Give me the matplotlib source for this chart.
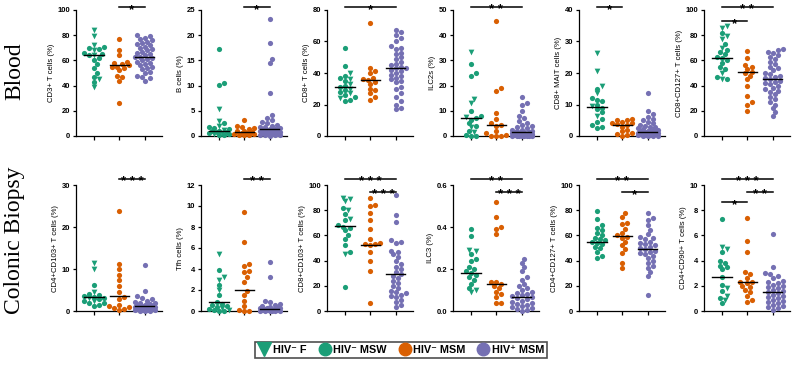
import numpy as np
import matplotlib.pyplot as plt
from matplotlib.lines import Line2D
from matplotlib.ticker import FormatStrFormatter

# --- Data ---------------------------------------------------------------
# groups: HIV- F (triangles) + HIV- MSW (circles) share column 1,
# HIV- MSM column 2, HIV+ MSM column 3
# Blood
cd3_f = [84, 79, 72, 68, 64, 45, 39]
cd3_msw = [71, 70, 69, 66, 65, 64, 62, 60, 57, 54, 50, 47, 43]
cd3_msm = [77, 68, 64, 59, 58, 57, 56, 55, 55, 54, 52, 48, 47, 44, 26]
cd3_pos = [80, 79, 78, 77, 76, 75, 74, 73, 72, 71, 70, 69, 68, 67, 66, 65, 64, 63,
           63, 62, 61, 60, 59, 58, 57, 56, 55, 54, 53, 51, 50, 48, 47, 46, 44]
cd3_med = [64, 56, 63]

b_f = [5.3, 3.0, 2.0, 1.2, 0.6, 0.3]
b_msw = [17.3, 10.5, 10.2, 2.5, 1.8, 1.5, 1.3, 1.0, 0.9, 0.8, 0.7, 0.5, 0.4, 0.2, 0.1]
b_msm = [3.1, 2.0, 1.8, 1.5, 1.3, 1.0, 0.9, 0.8, 0.6, 0.5, 0.4, 0.3, 0.2, 0.1, 0.1]
b_pos = [23.2, 18.4, 15.2, 14.4, 8.5, 4.2, 3.6, 3.2, 2.8, 2.5, 2.2, 2.0, 1.8, 1.7, 1.5,
         1.4, 1.3, 1.3, 1.2, 1.1, 1.0, 0.9, 0.8, 0.7, 0.6, 0.5, 0.5, 0.4, 0.3, 0.3,
         0.2, 0.2, 0.1, 0.1, 0.05]
b_med = [1.0, 0.7, 1.3]

cd8_f = [40, 36, 33, 30, 27, 24]
cd8_msw = [56, 44.5, 38, 37, 35, 32, 31, 29, 28, 26, 25, 23, 22.5]
cd8_msm = [71.5, 43, 41, 40, 37, 36, 35.5, 34, 33, 30, 29, 27, 25, 23]
cd8_pos = [67, 66, 64, 62, 60, 57, 56, 55, 53, 52, 50, 49, 47, 46, 45, 44, 43, 43,
           42, 41, 40, 39, 38, 37, 36, 35, 34, 31, 30, 27, 25, 22, 20, 18, 17]
cd8_med = [31, 35.5, 43]

ilc2_f = [33.5, 14.5, 13, 7.5, 3.5, 1.5]
ilc2_msw = [28.5, 25, 24, 10, 8, 7, 6.5, 5, 4, 2, 0.3, 0, 0]
ilc2_msm = [45.5, 19, 18, 9, 6.8, 5, 4.5, 4, 2, 1, 0.5, 0, 0, 0]
ilc2_pos = [15.5, 13, 12.5, 10, 8, 7, 6, 5, 4.5, 4, 3.5, 3, 2.5, 2.2, 2, 1.8, 1.6,
            1.5, 1.4, 1.2, 1.0, 0.8, 0.7, 0.5, 0.4, 0.3, 0.2, 0.1, 0.1, 0, 0, 0, 0, 0, 0]
ilc2_med = [7.2, 4.3, 1.5]

mait_f = [26.5, 20.5, 16, 13.5, 9.5, 6.5]
mait_msw = [15, 12, 11.5, 11, 10, 9, 8.5, 7.5, 5.5, 4.5, 3.5, 3, 2.5]
mait_msm = [5.5, 5.2, 5, 4.5, 4.2, 4, 3.8, 3.5, 3, 2, 1.5, 1, 0.5, 0.2, 0]
mait_pos = [13.5, 8, 7, 6, 5.5, 5, 4.5, 4, 3.5, 3.2, 3, 2.8, 2.5, 2.2, 2, 1.8, 1.6,
            1.5, 1.4, 1.3, 1.2, 1.1, 1.0, 0.9, 0.8, 0.7, 0.6, 0.5, 0.4, 0.3, 0.2,
            0.1, 0.1, 0, 0]
mait_med = [9.2, 3.6, 1.4]

cd127_f = [87, 86, 79, 77, 70, 50, 45]
cd127_msw = [82, 73, 68, 67, 65, 63, 62, 60, 58, 55, 53, 47, 45]
cd127_msm = [67.5, 62, 56, 55, 53, 51, 50, 48, 45, 40, 32, 27, 25, 20]
cd127_pos = [69, 68, 67, 66, 64, 63, 61, 59, 57, 55, 54, 52, 50, 49, 48, 47, 46, 45,
             44, 43, 42, 41, 40, 38, 37, 36, 35, 33, 31, 29, 27, 25, 22, 19, 16]
cd127_med = [62, 50.5, 45]

# Colonic biopsy
cd4103_f = [11.5, 10.0, 4.5, 3.0, 2.3]
cd4103_msw = [6.2, 4.0, 3.8, 3.5, 3.3, 3.2, 2.8, 2.5, 2.0, 1.8, 1.5, 1.2]
cd4103_msm = [23.7, 11.3, 9.9, 8.6, 7.3, 6.0, 4.6, 3.4, 2.8, 1.5, 1.2, 1.0, 0.8, 0.5, 0.3]
cd4103_pos = [11, 4.8, 3.5, 3.0, 2.8, 2.5, 2.2, 2.0, 1.8, 1.6, 1.5, 1.4, 1.3, 1.2, 1.1,
              1.0, 0.9, 0.8, 0.7, 0.6, 0.5, 0.4, 0.3, 0.3, 0.2, 0.2, 0.1, 0.1, 0.05]
cd4103_med = [3.3, 3.5, 1.2]

tfh_f = [5.4, 3.2, 3.0, 2.0, 0.3, 0.1]
tfh_msw = [3.9, 2.5, 1.5, 0.9, 0.7, 0.6, 0.5, 0.4, 0.2, 0.05, 0, 0]
tfh_msm = [9.45, 6.6, 4.5, 4.3, 3.8, 3.7, 3.2, 2.8, 1.9, 1.5, 1.0, 0.5, 0.1, 0, 0]
tfh_pos = [4.7, 3.2, 1.0, 0.9, 0.7, 0.6, 0.5, 0.4, 0.35, 0.3, 0.3, 0.25, 0.2, 0.2,
           0.15, 0.1, 0.1, 0.05, 0.05, 0, 0, 0, 0, 0, 0]
tfh_med = [0.85, 2.0, 0.2]

cd8103_f = [90, 89, 87, 80, 73, 45]
cd8103_msw = [82, 77, 72, 68, 67, 66, 64, 60, 57, 52, 47, 19]
cd8103_msm = [90, 84, 83, 78, 72, 65, 57, 54, 53, 53, 52, 47, 40, 32, 6]
cd8103_pos = [92, 76, 71, 56, 55, 54, 48, 47, 45, 43, 40, 37, 35, 33, 31, 29, 28, 26,
              24, 22, 20, 18, 16, 15, 14, 13, 12, 11, 9, 7, 5, 3]
cd8103_med = [67.5, 52.5, 29.5]

ilc3_f = [0.29, 0.285, 0.10, 0.09]
ilc3_msw = [0.39, 0.355, 0.27, 0.25, 0.24, 0.21, 0.2, 0.19, 0.18, 0.17, 0.16, 0.15, 0.13, 0.11]
ilc3_msm = [0.52, 0.45, 0.40, 0.39, 0.365, 0.14, 0.14, 0.13, 0.12, 0.11, 0.09, 0.08,
            0.065, 0.04, 0.04]
ilc3_pos = [0.25, 0.23, 0.21, 0.19, 0.16, 0.15, 0.13, 0.12, 0.11, 0.10, 0.09, 0.085,
            0.08, 0.075, 0.07, 0.065, 0.06, 0.055, 0.05, 0.045, 0.04, 0.035, 0.03,
            0.025, 0.02, 0.015, 0.01, 0.005, 0]
ilc3_med = [0.18, 0.128, 0.065]

cd4127_f = []
cd4127_msw = [79, 73, 68, 66, 64, 62, 60, 58, 57, 56, 55, 54, 53, 51, 50, 47, 44, 42]
cd4127_msm = [78, 75, 70, 69, 65, 62, 60, 59, 58, 55, 52, 49, 46, 38, 34]
cd4127_pos = [78, 74, 72, 68, 64, 61, 59, 58, 57, 55, 54, 53, 52, 51, 50, 49, 48, 47,
              46, 45, 44, 42, 40, 38, 36, 34, 31, 28, 13]
cd4127_med = [55, 59.5, 49.5]

cd90_f = [5.1, 4.9, 1.8, 1.2, 0.9]
cd90_msw = [7.3, 4.7, 4.0, 3.8, 3.6, 3.5, 3.3, 2.7, 2.1, 1.6, 1.0, 0.6]
cd90_msm = [7.4, 5.55, 4.7, 3.1, 2.9, 2.6, 2.3, 2.3, 2.2, 2.0, 1.9, 1.7, 1.5, 1.2, 0.9, 0.7]
cd90_pos = [6.1, 3.5, 3.0, 2.9, 2.8, 2.6, 2.4, 2.3, 2.2, 2.1, 2.0, 1.9, 1.8, 1.7, 1.6,
            1.5, 1.4, 1.3, 1.2, 1.1, 1.0, 0.9, 0.8, 0.7, 0.6, 0.5, 0.4, 0.3, 0.2, 0.1]
cd90_med = [2.7, 2.3, 1.5]

legend_labels = ["HIV⁻ F", "HIV⁻ MSW", "HIV⁻ MSM", "HIV⁺ MSM"]
row_labels = ["Blood", "Colonic Biopsy"]

GREEN, ORANGE, PURPLE = "#1b9e77", "#d95f02", "#7570b3"
SANS = ["Liberation Sans", "DejaVu Sans"]

# (row, col, data..., ylabel, ymax, tick step, [(g1, g2, stars, level)])
panels = [
    (0, 0, cd3_f, cd3_msw, cd3_msm, cd3_pos, cd3_med, "CD3+ T cells (%)", 100, 20, [(1, 2, 1, 0)]),
    (0, 1, b_f, b_msw, b_msm, b_pos, b_med, "B cells (%)", 25, 5, [(1, 2, 1, 0)]),
    (0, 2, cd8_f, cd8_msw, cd8_msm, cd8_pos, cd8_med, "CD8+ T cells (%)", 80, 20, [(0, 2, 1, 0)]),
    (0, 3, ilc2_f, ilc2_msw, ilc2_msm, ilc2_pos, ilc2_med, "ILC2s (%)", 50, 10, [(0, 2, 2, 0)]),
    (0, 4, mait_f, mait_msw, mait_msm, mait_pos, mait_med, "CD8+ MAIT cells (%)", 40, 10, [(0, 1, 1, 0)]),
    (0, 5, cd127_f, cd127_msw, cd127_msm, cd127_pos, cd127_med, "CD8+CD127+ T cells (%)", 100, 20,
     [(0, 2, 2, 0), (0, 1, 1, 1)]),
    (1, 0, cd4103_f, cd4103_msw, cd4103_msm, cd4103_pos, cd4103_med, "CD4+CD103+ T cells (%)", 30, 10,
     [(1, 2, 3, 0)]),
    (1, 1, tfh_f, tfh_msw, tfh_msm, tfh_pos, tfh_med, "Tfh cells (%)", 12, 2, [(1, 2, 2, 0)]),
    (1, 2, cd8103_f, cd8103_msw, cd8103_msm, cd8103_pos, cd8103_med, "CD8+CD103+ T cells (%)", 100, 20,
     [(0, 2, 3, 0), (1, 2, 3, 1)]),
    (1, 3, ilc3_f, ilc3_msw, ilc3_msm, ilc3_pos, ilc3_med, "ILC3 (%)", 0.6, 0.2,
     [(0, 2, 2, 0), (1, 2, 3, 1)]),
    (1, 4, cd4127_f, cd4127_msw, cd4127_msm, cd4127_pos, cd4127_med, "CD4+CD127+ T cells (%)", 100, 20,
     [(0, 2, 2, 0), (1, 2, 1, 1)]),
    (1, 5, cd90_f, cd90_msw, cd90_msm, cd90_pos, cd90_med, "CD4+CD90+ T cells (%)", 10, 2,
     [(0, 2, 3, 0), (1, 2, 2, 1), (0, 1, 1, 2)]),
]

# --- Layout (pixels) ----------------------------------------------------
W, H = 792, 365
AX_H = 126
ROW_BOTTOM = [136, 311]          # y pixel of the zero line
GROUP1_X = [94, 219, 345, 471, 597, 722]
SPACING = 25.3                   # px between groups
LEVELS = [[1.024, 0.913, 0.83], [1.048, 0.948, 0.865]]
DOT = 5.0                        # dot diameter in px
MAX_HALF = 11.5                  # widest a swarm may get, px


def swarm(vals, ymax):
    ys = np.asarray(vals, float) / ymax * AX_H
    xs = np.zeros(len(ys))
    cands = [0.0]
    k = 1
    while k * DOT * 0.5 <= MAX_HALF:
        cands += [k * DOT * 0.5, -k * DOT * 0.5]
        k += 1
    placed = []
    for i in np.argsort(ys, kind="stable"):
        best, best_d = 0.0, -1
        for c in cands:
            d = min([np.hypot(c - px, ys[i] - py) for px, py in placed] or [99])
            if d >= DOT * 0.9:
                best = c
                break
            if d > best_d:
                best, best_d = c, d
        xs[i] = best
        placed.append((best, ys[i]))
    return xs / SPACING


fig = plt.figure(figsize=(W / 100, H / 100), dpi=100)

for row, col, f, msw, msm, pos, med, ylabel, ymax, step, sig in panels:
    left = GROUP1_X[col] - 18
    ax = fig.add_axes([left / W, (H - ROW_BOTTOM[row]) / H, 86 / W, AX_H / H])
    ax.set_xlim(-18 / SPACING, 68 / SPACING)
    ax.set_ylim(0, ymax)

    g1 = list(f) + list(msw)
    off1 = swarm(g1, ymax)
    nf = len(f)
    if nf:
        ax.scatter(off1[:nf], f, marker="v", s=17, color=GREEN, lw=0, clip_on=False, zorder=3)
    ax.scatter(off1[nf:], msw, marker="o", s=14, color=GREEN, lw=0, clip_on=False, zorder=3)
    ax.scatter(1 + swarm(msm, ymax), msm, marker="o", s=14, color=ORANGE, lw=0, clip_on=False, zorder=3)
    ax.scatter(2 + swarm(pos, ymax), pos, marker="o", s=14, color=PURPLE, lw=0, clip_on=False, zorder=3)

    for i, m in enumerate(med):
        ax.plot([i - 0.38, i + 0.38], [m, m], color="black", lw=1.0, zorder=4, clip_on=False)

    for a, b, n, lev in sig:
        y = LEVELS[row][lev]
        tr = ax.get_xaxis_transform()
        ax.plot([a, b], [y, y], color="black", lw=1.1, transform=tr, clip_on=False)
        ax.annotate(" ".join("*" * n), xy=((a + b) / 2, y), xycoords=tr,
                    xytext=(0, -4.5), textcoords="offset points", ha="center", va="baseline",
                    fontsize=9.5, fontweight="bold", family=SANS)

    ax.set_yticks(np.arange(0, ymax + step / 2, step))
    if ymax < 1:
        ax.yaxis.set_major_formatter(FormatStrFormatter("%.1f"))
    else:
        ax.yaxis.set_major_formatter(FormatStrFormatter("%d"))
    ax.set_xticks([0, 1, 2])
    ax.set_xticklabels([])
    ax.tick_params(axis="y", length=2.5, width=0.9, pad=1.5, labelsize=5.5)
    ax.tick_params(axis="x", length=3, width=0.9)
    for lbl in ax.get_yticklabels():
        lbl.set_fontweight("bold")
        lbl.set_family(SANS)
    ax.set_ylabel(ylabel, fontsize=5.6, family=SANS, labelpad=2)
    for s in ["top", "right"]:
        ax.spines[s].set_visible(False)
    for s in ["left", "bottom"]:
        ax.spines[s].set_linewidth(0.9)

fig.text(15 / W, 1 - 71 / H, row_labels[0], rotation=90, ha="center", va="center",
         fontsize=17, family="Liberation Serif")
fig.text(15 / W, 1 - 240 / H, row_labels[1], rotation=90, ha="center", va="center",
         fontsize=17, family="Liberation Serif")

handles = [
    Line2D([], [], marker="v", ls="none", color=GREEN, markersize=10),
    Line2D([], [], marker="o", ls="none", color=GREEN, markersize=9),
    Line2D([], [], marker="o", ls="none", color=ORANGE, markersize=9),
    Line2D([], [], marker="o", ls="none", color=PURPLE, markersize=9),
]
leg = fig.legend(handles, legend_labels, loc="center", bbox_to_anchor=(401 / W, 1 - 350 / H),
                 ncol=4, frameon=True, fancybox=False, handletextpad=0.15, columnspacing=1.1,
                 handlelength=1.2, borderpad=0.3, prop={"family": SANS, "weight": "bold", "size": 7.8})
leg.get_frame().set_edgecolor("#222222")
leg.get_frame().set_linewidth(1.2)

fig.savefig("out.png", dpi=100)
